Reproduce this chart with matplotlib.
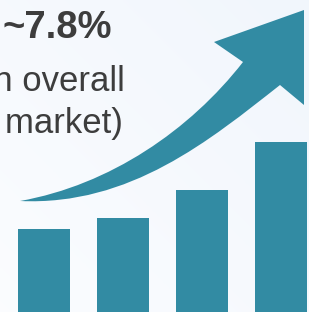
#!/usr/bin/env python3
"""增长柱状图 + 上升箭头"""
import matplotlib
matplotlib.use('Agg')
import matplotlib.pyplot as plt
from matplotlib.path import Path
from matplotlib.patches import PathPatch
import numpy as np

plt.rcParams['font.family'] = ['Liberation Sans', 'DejaVu Sans']

# 数据
categories = ['Y1', 'Y2', 'Y3', 'Y4']
values = [83, 94, 122, 170]
headline = '~7.8%'
sub_lines = ['an overall', 's market)']

TEAL = '#328BA3'
TEXT = '#3D3D3D'
W, H = 309, 312

fig = plt.figure(figsize=(W / 100, H / 100), dpi=100)
ax = fig.add_axes([0, 0, 1, 1])
ax.set_xlim(0, W)
ax.set_ylim(0, H)
ax.axis('off')

# 背景渐变
grad = np.linspace(0, 1, 256).reshape(1, -1)
g = (grad + grad.T[::-1]) / 2
c0 = np.array([0.985, 0.990, 1.0])
c1 = np.array([0.945, 0.965, 0.990])
img = c0 + (c1 - c0) * g[..., None]
ax.imshow(img, extent=[0, W, 0, H], aspect='auto', zorder=0)

# 柱子
x = 43.5 + 79 * np.arange(len(categories))
ax.bar(x, values, width=52, color=TEAL, zorder=2)

# 箭头（图像坐标 -> y 向上）
def p(px, py):
    return (px, H - py)

verts = [
    p(20, 201),
    p(110, 185), p(190, 130), p(243, 62),   # 上边缘
    p(214, 42),
    p(304, 10),
    p(304, 105),
    p(280, 85),
    p(210, 140), p(130, 206), p(20, 201),   # 下边缘
    p(20, 201),
]
codes = [Path.MOVETO,
         Path.CURVE4, Path.CURVE4, Path.CURVE4,
         Path.LINETO, Path.LINETO, Path.LINETO, Path.LINETO,
         Path.CURVE4, Path.CURVE4, Path.CURVE4,
         Path.CLOSEPOLY]
ax.add_patch(PathPatch(Path(verts, codes), facecolor=TEAL, edgecolor='none', zorder=3))

# 文字（左侧被裁切，与原图一致）
ax.text(2, H - 38, headline, fontsize=27.5, fontweight='bold', color=TEXT,
        ha='left', va='baseline', zorder=4)
ax.text(125, H - 91, sub_lines[0], fontsize=25, color=TEXT,
        ha='right', va='baseline', zorder=4)
ax.text(123, H - 133, sub_lines[1], fontsize=25, color=TEXT,
        ha='right', va='baseline', zorder=4)

plt.savefig('out.png', dpi=100)
plt.close()
